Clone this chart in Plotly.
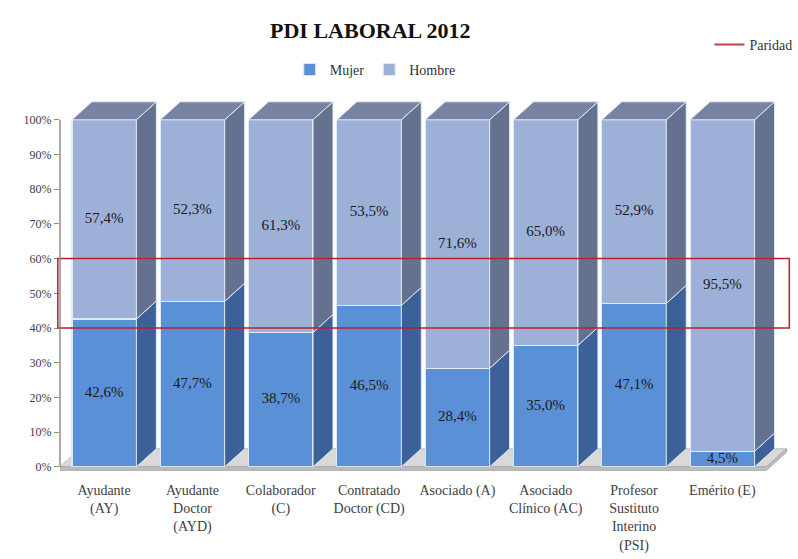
import plotly.graph_objects as go

categories = ["Ayudante<br>(AY)", "Ayudante<br>Doctor<br>(AYD)", "Colaborador<br>(C)",
              "Contratado<br>Doctor (CD)", "Asociado (A)", "Asociado<br>Clínico (AC)",
              "Profesor<br>Sustituto<br>Interino<br>(PSI)", "Emérito (E)"]
mujer = [42.6, 47.7, 38.7, 46.5, 28.4, 35.0, 47.1, 4.5]
hombre = [57.4, 52.3, 61.3, 53.5, 71.6, 65.0, 52.9, 95.5]
paridad = [40, 60]
y_ticks = [0, 10, 20, 30, 40, 50, 60, 70, 80, 90, 100]

SERIF = "Liberation Serif"
W = 0.73      # bar width (category units)
DX = 0.226    # depth offset in x (category units)
DY = 0.052    # depth offset in y (fraction)

pos = list(range(len(categories)))
n = len(categories)
m = [v / 100 for v in mujer]
h = [v / 100 for v in hombre]

def fmt(v):
    return f"{v:.1f}%".replace(".", ",")

fig = go.Figure()

# front faces
fig.add_trace(go.Bar(x=pos, y=m, width=W, name="Mujer",
                     marker=dict(color="#5A90D6", line=dict(color="#DCE6F2", width=1.2)),
                     hoverinfo="skip"))
fig.add_trace(go.Bar(x=pos, y=h, width=W, name="Hombre",
                     marker=dict(color="#9DB1D8", line=dict(color="#E4EAF4", width=1.2)),
                     hoverinfo="skip"))

def side_polys(base, top):
    xs, ys = [], []
    for p, b0, b1 in zip(pos, base, top):
        xr = p + W / 2
        xs += [xr, xr + DX, xr + DX, xr, xr, None]
        ys += [b0, b0 + DY, b1 + DY, b1, b0, None]
    return xs, ys

xs, ys = side_polys([0] * n, m)
fig.add_trace(go.Scatter(x=xs, y=ys, fill="toself", fillcolor="#3B6198",
                         line=dict(color="#DCE6F2", width=1), mode="lines",
                         showlegend=False, hoverinfo="skip"))
xs, ys = side_polys(m, [a + b for a, b in zip(m, h)])
fig.add_trace(go.Scatter(x=xs, y=ys, fill="toself", fillcolor="#64728F",
                         line=dict(color="#E4EAF4", width=1), mode="lines",
                         showlegend=False, hoverinfo="skip"))

# top faces
tx, ty = [], []
for p, a, b in zip(pos, m, h):
    t = a + b
    xl, xr = p - W / 2, p + W / 2
    tx += [xl, xl + DX, xr + DX, xr, xl, None]
    ty += [t, t + DY, t + DY, t, t, None]
fig.add_trace(go.Scatter(x=tx, y=ty, fill="toself", fillcolor="#7683A2",
                         line=dict(color="#E4EAF4", width=1), mode="lines",
                         showlegend=False, hoverinfo="skip"))

# labels
fig.add_trace(go.Scatter(x=pos, y=[a / 2 for a in m], mode="text",
                         text=[fmt(v) for v in mujer],
                         textfont=dict(family=SERIF, size=15, color="#1a1a1a"),
                         showlegend=False, hoverinfo="skip"))
fig.add_trace(go.Scatter(x=pos, y=[a + b / 2 for a, b in zip(m, h)], mode="text",
                         text=[fmt(v) for v in hombre],
                         textfont=dict(family=SERIF, size=15, color="#1a1a1a"),
                         showlegend=False, hoverinfo="skip"))

# Paridad legend entry
fig.add_trace(go.Scatter(x=[None], y=[None], mode="lines", name="Paridad",
                         line=dict(color="#C0404A", width=2), legend="legend2"))

# floor (below traces)
fig.add_shape(type="path", xref="x", yref="y", layer="below",
              path=f"M -0.5 0 L {n - 0.5} 0 L {n - 0.5 + DX} {DY} L {-0.5 + DX} {DY} Z",
              fillcolor="#D9D9D9", line=dict(color="#BFBFBF", width=1))
fig.add_shape(type="path", xref="x", yref="y", layer="below",
              path=(f"M -0.5 0 L {n - 0.5} 0 L {n - 0.5 + DX} {DY} L {n - 0.5 + DX} {DY - 0.01} "
                    f"L {n - 0.5} -0.01 L -0.5 -0.01 Z"),
              fillcolor="#BFBFBF", line=dict(color="#A6A6A6", width=1))

# Paridad rectangle
fig.add_shape(type="rect", xref="paper", yref="y", x0=-0.003, x1=0.995,
              y0=paridad[0] / 100, y1=paridad[1] / 100,
              line=dict(color="#B8202C", width=1.5), fillcolor="rgba(0,0,0,0)")
# y axis line
fig.add_shape(type="line", xref="paper", yref="y", x0=0, x1=0, y0=0, y1=1,
              line=dict(color="#8C8C8C", width=1.5))

fig.update_layout(
    width=798, height=559,
    margin=dict(l=60, r=5, t=99, b=87, autoexpand=False),
    paper_bgcolor="white", plot_bgcolor="white",
    barmode="stack",
    title=dict(text="<b>PDI LABORAL 2012</b>", x=0.464, xanchor="center",
               y=0.946, yanchor="middle",
               font=dict(family=SERIF, size=22, color="#111111")),
    legend=dict(orientation="h", x=0.43, xanchor="center", y=1.078, yanchor="middle",
                font=dict(family=SERIF, size=14, color="#333333"),
                itemwidth=30, traceorder="normal"),
    legend2=dict(x=1.006, xanchor="right", y=1.145, yanchor="middle",
                 font=dict(family=SERIF, size=14, color="#333333"), itemwidth=30),
    xaxis=dict(range=[-0.5, 7.8], tickmode="array", tickvals=pos, ticktext=categories,
               showgrid=False, zeroline=False, showline=False, ticks="",
               ticklabelstandoff=8,
               tickfont=dict(family=SERIF, size=14, color="#404040"), fixedrange=True),
    yaxis=dict(range=[-0.015, 1.06], tickmode="array",
               tickvals=[v / 100 for v in y_ticks],
               ticktext=[f"{v}%" for v in y_ticks],
               showgrid=False, zeroline=False, showline=False,
               ticks="outside", ticklen=5, tickcolor="#8C8C8C",
               tickfont=dict(family=SERIF, size=12, color="#404040"), fixedrange=True),
)

fig.write_html("out.html", config={"displayModeBar": False},
               post_script="document.body.style.margin='0px';")
